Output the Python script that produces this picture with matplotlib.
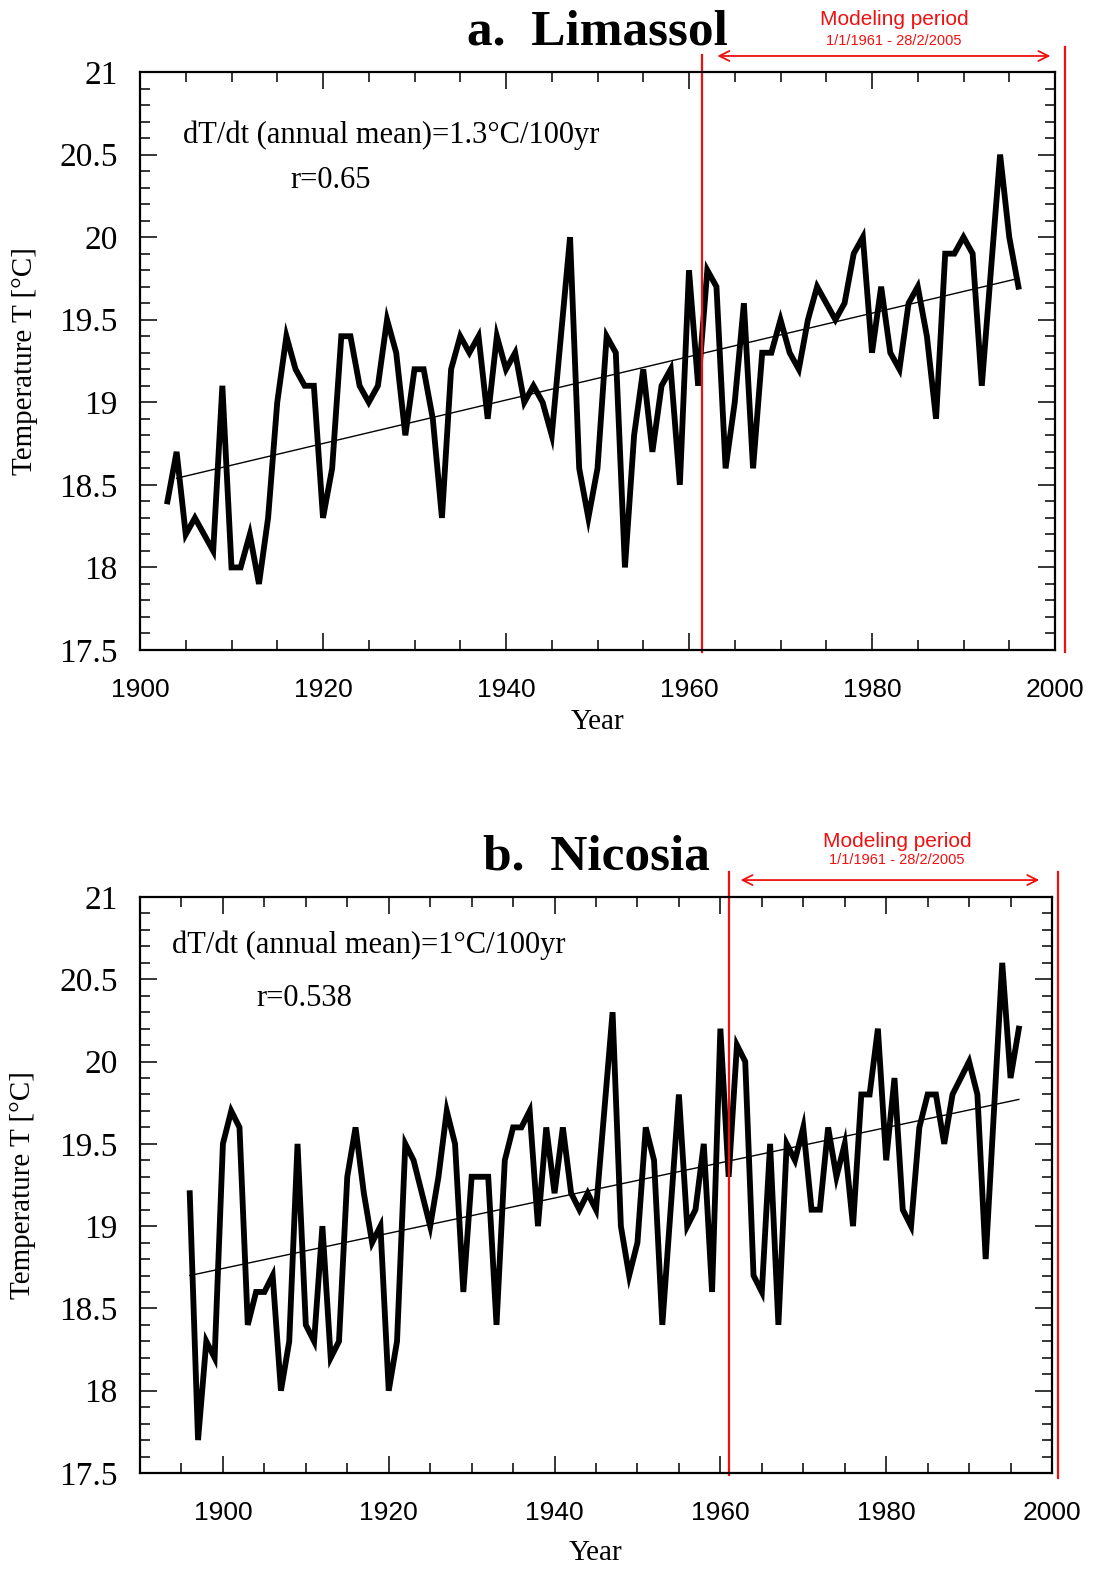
import matplotlib
matplotlib.use('Agg')
import matplotlib.pyplot as plt
from matplotlib.ticker import MultipleLocator
import numpy as np

# Limassol annual mean temperature
years_a = np.arange(1903, 1997)
temp_a = [18.4, 18.7, 18.2, 18.3, 18.2, 18.1, 19.1, 18.0, 18.0, 18.2,
          17.9, 18.3, 19.0, 19.4, 19.2, 19.1, 19.1, 18.3, 18.6, 19.4,
          19.4, 19.1, 19.0, 19.1, 19.5, 19.3, 18.8, 19.2, 19.2, 18.9,
          18.3, 19.2, 19.4, 19.3, 19.4, 18.9, 19.4, 19.2, 19.3, 19.0,
          19.1, 19.0, 18.8, 19.4, 20.0, 18.6, 18.3, 18.6, 19.4, 19.3,
          18.0, 18.8, 19.2, 18.7, 19.1, 19.2, 18.5, 19.8, 19.1, 19.8,
          19.7, 18.6, 19.0, 19.6, 18.6, 19.3, 19.3, 19.5, 19.3, 19.2,
          19.5, 19.7, 19.6, 19.5, 19.6, 19.9, 20.0, 19.3, 19.7, 19.3,
          19.2, 19.6, 19.7, 19.4, 18.9, 19.9, 19.9, 20.0, 19.9, 19.1,
          19.8, 20.5, 20.0, 19.7]
trend_years_a = [1904, 1996]
trend_a = [18.54, 19.75]

# Nicosia annual mean temperature
years_b = np.arange(1896, 1997)
temp_b = [19.2, 17.7, 18.3, 18.2, 19.5, 19.7, 19.6, 18.4, 18.6, 18.6,
          18.7, 18.0, 18.3, 19.5, 18.4, 18.3, 19.0, 18.2, 18.3, 19.3,
          19.6, 19.2, 18.9, 19.0, 18.0, 18.3, 19.5, 19.4, 19.2, 19.0,
          19.3, 19.7, 19.5, 18.6, 19.3, 19.3, 19.3, 18.4, 19.4, 19.6,
          19.6, 19.7, 19.0, 19.6, 19.2, 19.6, 19.2, 19.1, 19.2, 19.1,
          19.7, 20.3, 19.0, 18.7, 18.9, 19.6, 19.4, 18.4, 19.1, 19.8,
          19.0, 19.1, 19.5, 18.6, 20.2, 19.3, 20.1, 20.0, 18.7, 18.6,
          19.5, 18.4, 19.5, 19.4, 19.6, 19.1, 19.1, 19.6, 19.3, 19.5,
          19.0, 19.8, 19.8, 20.2, 19.4, 19.9, 19.1, 19.0, 19.6, 19.8,
          19.8, 19.5, 19.8, 19.9, 20.0, 19.8, 18.8, 19.7, 20.6, 19.9,
          20.2]
trend_years_b = [1896, 1996]
trend_b = [18.70, 19.77]

SERIF = 'Liberation Serif'
SANS = 'Liberation Sans'
RED = '#ee1111'


def draw_panel(ax, years, temp, trend_years, trend, title, slope_text, r_text,
               xmin, text_pos, r_pos):
    ax.plot(years, temp, color='black', lw=4.2, solid_joinstyle='miter')
    ax.plot(trend_years, trend, color='black', lw=1.0)

    ax.set_xlim(xmin, 2000)
    ax.set_ylim(17.5, 21)
    ax.xaxis.set_major_locator(MultipleLocator(20))
    ax.xaxis.set_minor_locator(MultipleLocator(5))
    ax.yaxis.set_major_locator(MultipleLocator(0.5))
    ax.yaxis.set_minor_locator(MultipleLocator(0.1))
    ax.yaxis.set_major_formatter(lambda v, p: ('%g' % v))

    ax.tick_params(which='both', direction='in', top=True, right=True, width=1.1)
    ax.tick_params(which='major', length=12)
    ax.tick_params(which='minor', length=7)
    ax.tick_params(axis='x', pad=20)
    ax.tick_params(axis='y', pad=16)
    for lab in ax.get_xticklabels():
        lab.set_fontfamily(SANS)
        lab.set_fontsize(19)
    for lab in ax.get_yticklabels():
        lab.set_fontfamily(SERIF)
        lab.set_fontsize(24)
    for sp in ax.spines.values():
        sp.set_linewidth(1.6)

    ax.set_title(title, fontfamily=SERIF, fontweight='bold', fontsize=37, pad=20)
    ax.set_xlabel('Year', fontfamily=SERIF, fontsize=21)
    ax.set_ylabel('Temperature T [°C]', fontfamily=SERIF, fontsize=21)

    ax.text(text_pos[0], text_pos[1], slope_text, transform=ax.transAxes,
            fontfamily=SERIF, fontsize=22, va='center', ha='left')
    ax.text(r_pos[0], r_pos[1], r_text, transform=ax.transAxes,
            fontfamily=SERIF, fontsize=22, va='center', ha='left')


fig = plt.figure(figsize=(10.97, 15.72), dpi=100)
ax_a = fig.add_axes([140 / 1097, 1 - 650 / 1572, 915 / 1097, 578 / 1572])
ax_b = fig.add_axes([140 / 1097, 1 - 1473 / 1572, 912 / 1097, 576 / 1572])

draw_panel(ax_a, years_a, temp_a, trend_years_a, trend_a, 'a.  Limassol',
           'dT/dt (annual mean)=1.3°C/100yr', 'r=0.65', 1900,
           (0.047, 0.891), (0.164, 0.813))
draw_panel(ax_b, years_b, temp_b, trend_years_b, trend_b, 'b.  Nicosia',
           'dT/dt (annual mean)=1°C/100yr', 'r=0.538', 1890,
           (0.035, 0.917), (0.128, 0.823))

ax_a.xaxis.set_label_coords(0.5, -0.102)
ax_a.yaxis.set_label_coords(-0.111, 0.5)
ax_b.xaxis.set_label_coords(0.5, -0.116)
ax_b.yaxis.set_label_coords(-0.114, 0.5)

# modelling period markers (drawn outside the axes, so no clipping)
ax_a.plot([1961.4, 1961.4], [17.49, 21.10], color=RED, lw=1.6, clip_on=False)
ax_a.plot([2001.1, 2001.1], [17.49, 21.15], color=RED, lw=1.6, clip_on=False)
ax_a.annotate('', xy=(1999.8, 21.097), xytext=(1962.8, 21.097),
              arrowprops=dict(arrowstyle='<->', color=RED, lw=1.3,
                              mutation_scale=18), annotation_clip=False)
ax_a.text(1982.4, 21.315, 'Modeling period', color=RED, fontfamily=SANS,
          fontsize=15, ha='center', va='center', clip_on=False)
ax_a.text(1982.4, 21.19, '1/1/1961 - 28/2/2005', color=RED, fontfamily=SANS,
          fontsize=10.5, ha='center', va='center', clip_on=False)

ax_b.plot([1961.05, 1961.05], [17.49, 21.15], color=RED, lw=1.6, clip_on=False)
ax_b.plot([2000.7, 2000.7], [17.47, 21.15], color=RED, lw=1.6, clip_on=False)
ax_b.annotate('', xy=(1998.8, 21.103), xytext=(1962.1, 21.103),
              arrowprops=dict(arrowstyle='<->', color=RED, lw=1.3,
                              mutation_scale=18), annotation_clip=False)
ax_b.text(1981.3, 21.34, 'Modeling period', color=RED, fontfamily=SANS,
          fontsize=15, ha='center', va='center', clip_on=False)
ax_b.text(1981.3, 21.225, '1/1/1961 - 28/2/2005', color=RED, fontfamily=SANS,
          fontsize=10.5, ha='center', va='center', clip_on=False)

fig.savefig('out.png', dpi=100)
